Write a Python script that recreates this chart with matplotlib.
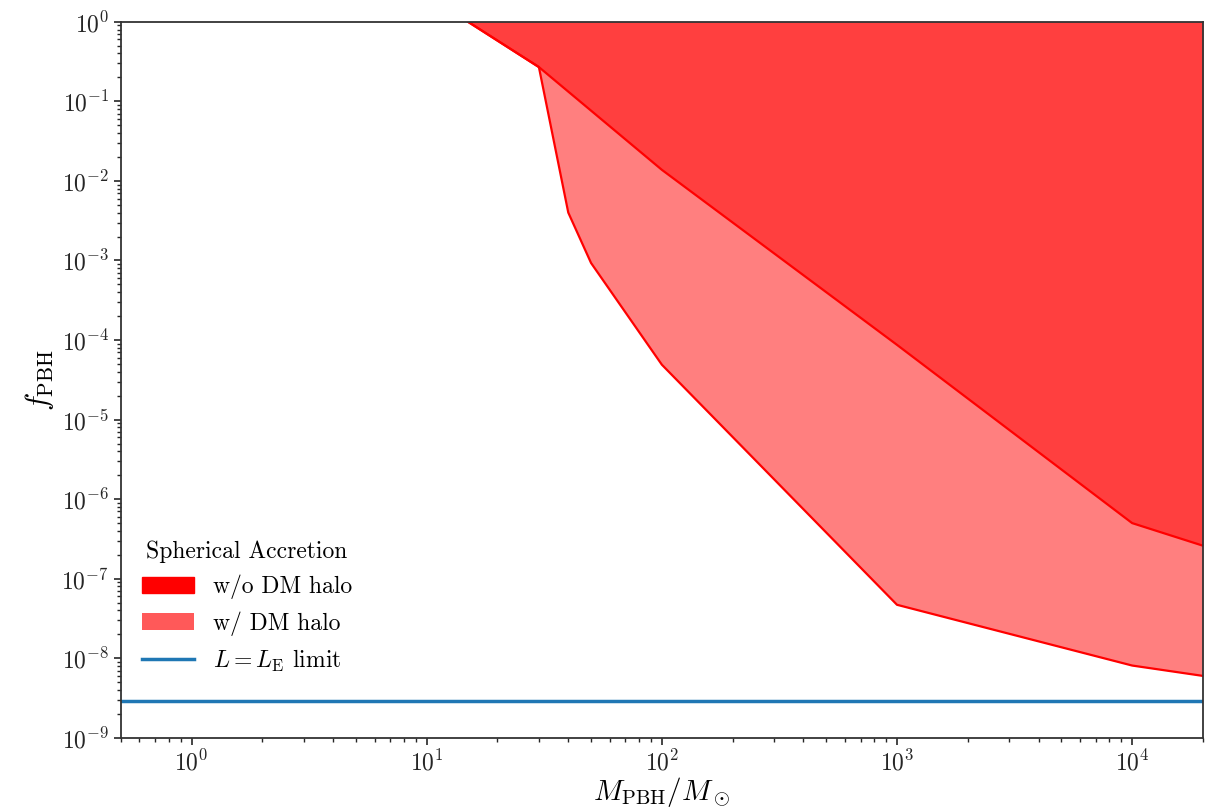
import matplotlib
matplotlib.use("Agg")
import matplotlib.pyplot as plt
from matplotlib.patches import Patch
from matplotlib.lines import Line2D
import numpy as np

plt.rcParams['font.family'] = 'serif'
plt.rcParams['font.serif'] = ['cmr10', 'DejaVu Serif']
plt.rcParams['mathtext.fontset'] = 'cm'
plt.rcParams['axes.formatter.use_mathtext'] = True
plt.rcParams['axes.unicode_minus'] = False

# limite sans halo de matiere noire
m_nohalo = [10, 30, 100, 1000, 1e4, 2e4]
f_nohalo = [2.15, 0.27, 0.0138, 8.7e-5, 5.0e-7, 2.6e-7]

# limite avec halo (au-dessous de 30 elle suit la limite sans halo)
m_halo = [10, 30, 40, 50, 100, 1000, 1e4, 2e4]
f_halo = [2.15, 0.27, 4.0e-3, 9.3e-4, 4.9e-5, 4.7e-8, 8.1e-9, 6.0e-9]

f_edd = 2.9e-9

fig, ax = plt.subplots(figsize=(12.2, 8.09), dpi=100)
fig.subplots_adjust(left=0.099, right=0.986, top=0.973, bottom=0.088)

ax.fill_between(m_halo, f_halo, 10, color='red', alpha=0.5, lw=0)
ax.fill_between(m_nohalo, f_nohalo, 10, color='red', alpha=0.5, lw=0)
ax.plot(m_halo, f_halo, color='red', lw=1.6)
ax.plot(m_nohalo, f_nohalo, color='red', lw=1.6)
ax.axhline(f_edd, color='tab:blue', lw=2.5)

ax.set_xscale('log')
ax.set_yscale('log')
ax.set_xlim(0.5, 2e4)
ax.set_ylim(1e-9, 1)
ax.set_yticks([10.0**k for k in range(-9, 1)])
ax.set_xlabel(r'$M_{\rm PBH}/M_\odot$', fontsize=21, labelpad=0)
ax.set_ylabel(r'$f_{\rm PBH}$', fontsize=22, labelpad=4)
ax.tick_params(which='both', direction='out', colors='.15', labelsize=17)
ax.tick_params(which='major', length=5, width=1.2)
ax.tick_params(which='minor', length=3, width=1)
for s in ax.spines.values():
    s.set_color('.2')
    s.set_linewidth(1.3)

handles = [Patch(color='red'),
           Patch(color='red', alpha=0.65, lw=0),
           Line2D([], [], color='tab:blue', lw=2.5)]
labels = ['w/o DM halo', 'w/ DM halo', r'$L=L_{\rm E}$ limit']
leg = ax.legend(handles, labels, title='Spherical Accretion', loc='lower left',
                bbox_to_anchor=(0.0, 0.06), frameon=False, fontsize=17,
                title_fontsize=17, handlelength=2.2)

fig.savefig('out.png', dpi=100)
